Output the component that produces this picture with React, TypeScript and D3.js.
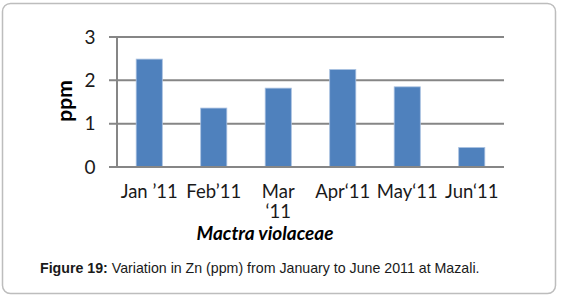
import React from "react";
import * as d3 from "d3";

const categories = ["Jan \u201911", "Feb\u201911", "Mar \u201811", "Apr\u201811", "May\u201811", "Jun\u201811"];
const values = [2.49, 1.36, 1.82, 2.25, 1.85, 0.45];
const yTicks = [0, 1, 2, 3];

const W = 561;
const H = 298;
const left = 117;
const right = 504;
const top = 37;
const bottom = 167;

export default function App() {
  const x = d3.scaleBand<string>().domain(categories).range([left, right]).paddingInner(0.595).paddingOuter(0.2975);
  const y = d3.scaleLinear().domain([0, 3]).range([bottom, top]);
  const gridColor = "#868686";
  const font = "Lato, 'Open Sans', sans-serif";
  return (
    <svg width={W} height={H} style={{ position: "absolute", left: 0, top: 0 }}>
      <rect x={2.5} y={3.5} width={553} height={290} rx={8} ry={8} fill="#fff" stroke="#bdbdbd" strokeWidth={1.5} />
      {yTicks.map((t) => (
        <g key={t}>
          <line x1={left - 8} x2={right} y1={y(t)} y2={y(t)} stroke={gridColor} strokeWidth={2} />
          <text x={left - 27} y={y(t)} dy="0.35em" textAnchor="middle" fontFamily={font} fontSize={19} fill="#1a1a1a">
            {t}
          </text>
        </g>
      ))}
      <line x1={left} x2={left} y1={top} y2={bottom} stroke={gridColor} strokeWidth={2} />
      {categories.map((c, i) => (
        <rect
          key={c}
          x={x(c)}
          y={y(values[i])}
          width={x.bandwidth()}
          height={y(0) - y(values[i])}
          fill="#4F81BD"
          stroke="#a9c1e0"
          strokeWidth={0.8}
        />
      ))}
      <line x1={left - 8} x2={right} y1={bottom} y2={bottom} stroke={gridColor} strokeWidth={2} />
      {categories.map((c) => {
        const cx = (x(c) as number) + x.bandwidth() / 2;
        const parts = c.startsWith("Mar") ? ["Mar", "\u201811"] : [c];
        return (
          <text key={c} x={cx} y={198} textAnchor="middle" fontFamily={font} fontSize={18.5} fill="#1a1a1a">
            {parts.map((p, j) => (
              <tspan key={j} x={cx} dy={j === 0 ? 0 : 20}>
                {p}
              </tspan>
            ))}
          </text>
        );
      })}
      <text
        transform={`translate(72,101) rotate(-90)`}
        textAnchor="middle"
        fontFamily={font}
        fontSize={21}
        fontWeight="bold"
        fill="#000"
      >
        ppm
      </text>
      <text x={265} y={240} textAnchor="middle" fontFamily={font} fontSize={19} fontWeight="bold" fontStyle="italic" fill="#000">
        Mactra violaceae
      </text>
      <text x={40} y={273} fontFamily="'Liberation Sans', Arial, sans-serif" fontSize={14.2} fill="#1a1a1a">
        <tspan fontWeight="bold">Figure 19:</tspan> Variation in Zn (ppm) from January to June 2011 at Mazali.
      </text>
    </svg>
  );
}
